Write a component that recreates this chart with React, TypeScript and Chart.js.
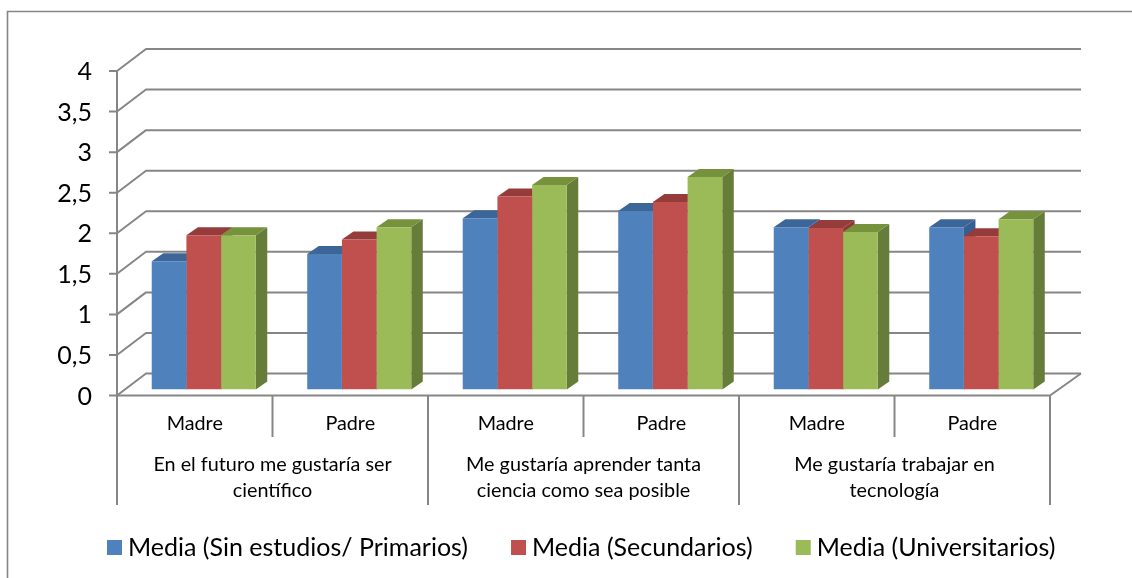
import React, { useEffect, useRef } from "react";
import { Chart, registerables } from "chart.js";

Chart.register(...registerables);

const subCategories = ["Madre", "Padre", "Madre", "Padre", "Madre", "Padre"];
const groupLabels = [
  ["En el futuro me gustaría ser", "científico"],
  ["Me gustaría aprender tanta", "ciencia como sea posible"],
  ["Me gustaría trabajar en", "tecnología"],
];
const seriesNames = [
  "Media (Sin estudios/ Primarios)",
  "Media (Secundarios)",
  "Media (Universitarios)",
];
const sinEstudios = [1.58, 1.67, 2.11, 2.2, 2.0, 2.0];
const secundarios = [1.9, 1.85, 2.38, 2.31, 1.99, 1.89];
const universitarios = [1.9, 2.0, 2.52, 2.62, 1.94, 2.1];
const tickLabels: Record<string, string> = {
  "0": "0", "0.5": "0,5", "1": "1", "1.5": "1,5", "2": "2",
  "2.5": "2,5", "3": "3", "3.5": "3,5", "4": "4",
};

const FONT = "Lato";
const LINE = "#868686";
const faceColors = ["#4F81BD", "#C0504D", "#9BBB59"];
const topColors = ["#3B6697", "#953B39", "#76923C"];
const sideColors = ["#365F91", "#8C3836", "#667C39"];

// Offsets relative to the plane the bars stand in
const FRONT = { x: -9, y: 6 };
const BACK = { x: 21, y: -16 };
const BAR_DEPTH = { x: 11.5, y: -8 };
const LEGEND_SHIFT = 8;

const box3d = {
  id: "box3d",
  afterLayout(chart: any) {
    chart.legend.left += LEGEND_SHIFT;
    chart.legend.right += LEGEND_SHIFT;
  },
  beforeDraw(chart: any) {
    const { ctx, width, height } = chart;
    ctx.save();
    ctx.strokeStyle = LINE;
    ctx.lineWidth = 1.6;
    ctx.beginPath();
    ctx.moveTo(7.5, height);
    ctx.lineTo(7.5, 11.5);
    ctx.lineTo(width, 11.5);
    ctx.stroke();
    ctx.restore();
  },
  beforeDatasetsDraw(chart: any) {
    const { ctx, scales } = chart;
    const y = scales.y;
    const x = scales.x;
    const left = x.left;
    const right = x.right;
    const frontL = left + FRONT.x;
    const frontR = right + FRONT.x;
    const backL = left + BACK.x - 1;
    const backR = right + BACK.x + 1;
    ctx.save();
    ctx.strokeStyle = LINE;
    ctx.lineWidth = 2;
    ctx.lineJoin = "round";
    for (const t of y.ticks) {
      const p = y.getPixelForValue(t.value);
      ctx.beginPath();
      ctx.moveTo(frontL - 8, p + FRONT.y);
      ctx.lineTo(frontL, p + FRONT.y);
      ctx.lineTo(backL, p + BACK.y);
      ctx.lineTo(backR, p + BACK.y);
      ctx.stroke();
    }
    const p0 = y.getPixelForValue(0);
    const p4 = y.getPixelForValue(4);
    ctx.beginPath();
    ctx.moveTo(frontL, p4 + FRONT.y);
    ctx.lineTo(frontL, p0 + FRONT.y);
    ctx.lineTo(frontR, p0 + FRONT.y);
    ctx.lineTo(backR, p0 + BACK.y);
    ctx.stroke();

    // Category separators, two levels
    const n = subCategories.length;
    const step = (frontR - frontL) / n;
    for (let i = 0; i <= n; i++) {
      const sx = frontL + step * i;
      ctx.beginPath();
      ctx.moveTo(sx, p0 + FRONT.y);
      ctx.lineTo(sx, i % 2 === 0 ? 505 : 437);
      ctx.stroke();
    }

    // Tops and sides of the bars
    chart.data.datasets.forEach((_: any, di: number) => {
      const meta = chart.getDatasetMeta(di);
      meta.data.forEach((bar: any) => {
        const hw = bar.width / 2;
        const l = bar.x - hw;
        const r = bar.x + hw;
        const t = bar.y;
        const b = bar.base;
        ctx.fillStyle = sideColors[di];
        ctx.beginPath();
        ctx.moveTo(r, t);
        ctx.lineTo(r + BAR_DEPTH.x, t + BAR_DEPTH.y);
        ctx.lineTo(r + BAR_DEPTH.x, b + BAR_DEPTH.y);
        ctx.lineTo(r, b);
        ctx.closePath();
        ctx.fill();
        ctx.fillStyle = topColors[di];
        ctx.beginPath();
        ctx.moveTo(l, t);
        ctx.lineTo(l + BAR_DEPTH.x, t + BAR_DEPTH.y);
        ctx.lineTo(r + BAR_DEPTH.x, t + BAR_DEPTH.y);
        ctx.lineTo(r, t);
        ctx.closePath();
        ctx.fill();
      });
    });
    ctx.restore();
  },
  afterDraw(chart: any) {
    const { ctx, scales } = chart;
    const x = scales.x;
    ctx.save();
    ctx.fillStyle = "#000";
    ctx.font = `19.8px ${FONT}`;
    ctx.textAlign = "center";
    ctx.textBaseline = "middle";
    groupLabels.forEach((lines, i) => {
      const cx = (x.getPixelForValue(i * 2) + x.getPixelForValue(i * 2 + 1)) / 2 + FRONT.x;
      lines.forEach((line, j) => ctx.fillText(line, cx, 465 + j * 26));
    });
    ctx.restore();
  },
};

export default function App() {
  const ref = useRef<HTMLCanvasElement>(null);
  useEffect(() => {
    const chart = new Chart(ref.current!, {
      type: "bar",
      data: {
        labels: subCategories,
        datasets: [
          { label: seriesNames[0], data: sinEstudios, backgroundColor: faceColors[0] },
          { label: seriesNames[1], data: secundarios, backgroundColor: faceColors[1] },
          { label: seriesNames[2], data: universitarios, backgroundColor: faceColors[2] },
        ],
      },
      options: {
        responsive: false,
        animation: false,
        layout: { padding: { left: 56, right: 0, top: 65, bottom: 8 } },
        datasets: { bar: { barPercentage: 1, categoryPercentage: 0.669 } },
        scales: {
          x: {
            grid: { display: false, drawTicks: false },
            border: { display: false },
            ticks: {
              autoSkip: false,
              maxRotation: 0,
              minRotation: 0,
              labelOffset: FRONT.x,
              padding: 22,
              color: "#000",
              font: { family: FONT, size: 19.8 },
            },
            afterFit: (s: any) => { s.height = 96; },
          },
          y: {
            min: 0,
            max: 4,
            grid: { display: false, drawTicks: false },
            border: { display: false },
            ticks: {
              autoSkip: false,
              stepSize: 0.5,
              labelOffset: FRONT.y + 1,
              padding: 34,
              color: "#000",
              font: { family: FONT, size: 25 },
              callback: (v: any) => tickLabels[String(v)],
            },
            afterFit: (s: any) => { s.width = 70; },
          },
          spacer: {
            type: "linear",
            position: "right",
            display: true,
            grid: { display: false, drawTicks: false },
            border: { display: false },
            ticks: { display: false },
            afterFit: (s: any) => { s.width = 73; },
          },
        },
        plugins: {
          title: { display: false },
          tooltip: { enabled: false },
          legend: {
            position: "bottom",
            align: "start",
            labels: {
              usePointStyle: true,
              pointStyle: "rect",
              boxWidth: 2,
              boxHeight: 15,
              padding: 49.5,
              color: "#000",
              font: { family: FONT, size: 25 },
            },
          },
        },
      },
      plugins: [box3d],
    } as any);
    return () => chart.destroy();
  }, []);
  return (
    <div style={{ position: "absolute", left: 0, top: 0, width: 1132, height: 578, background: "#fff" }}>
      <canvas ref={ref} width={1132} height={578} style={{ display: "block" }} />
    </div>
  );
}
